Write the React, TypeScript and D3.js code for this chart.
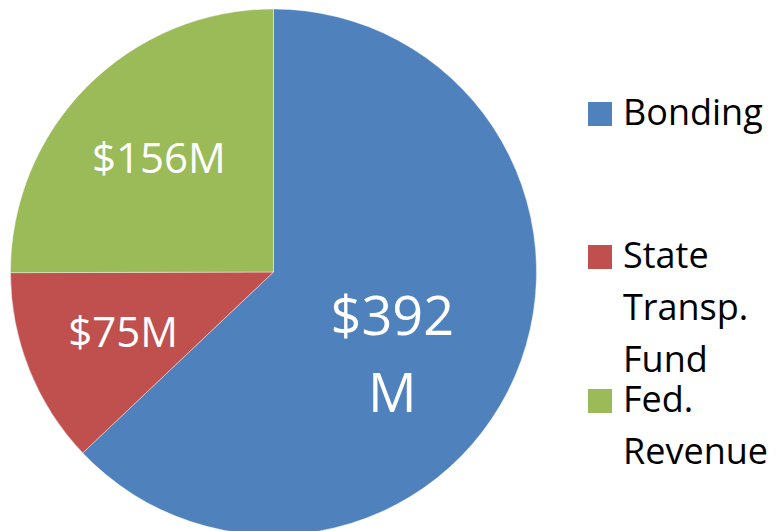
import React, { useEffect, useRef } from "react";
import * as d3 from "d3";

// funding sources, in the order they go round the pie (clockwise from 12 o'clock)
const sources = ["Bonding", "State Transp. Fund", "Fed. Revenue"];
const amounts = [392, 75, 156];
const sliceLabels = [["$392", "M"], ["$75M"], ["$156M"]];
const legendLines = [["Bonding"], ["State", "Transp.", "Fund"], ["Fed.", "Revenue"]];
const colors = ["#4F81BD", "#C0504D", "#9BBB59"];

const W = 777;
const H = 531;
const FONT = "'Open Sans', 'Noto Sans', sans-serif";

export default function App() {
  const ref = useRef<SVGSVGElement | null>(null);

  useEffect(() => {
    const svg = d3.select(ref.current);
    svg.selectAll("*").remove();

    const cx = 273.5,
      cy = 272,
      r = 263;

    const data = sources.map((s, i) => ({ name: s, value: amounts[i], i }));

    const pie = d3
      .pie<any>()
      .sort(null)
      .value((d) => d.value)
      .startAngle(0)
      .endAngle(2 * Math.PI);

    const arc = d3.arc<any>().innerRadius(0).outerRadius(r);
    const labelArc = d3.arc<any>().innerRadius(0).outerRadius(2 * 162);

    const g = svg.append("g").attr("transform", "translate(" + cx + "," + cy + ")");

    const arcs = pie(data);

    g.selectAll("path")
      .data(arcs)
      .enter()
      .append("path")
      .attr("d", arc)
      .attr("fill", (d) => colors[d.data.i])
      .attr("stroke", "#ffffff")
      .attr("stroke-opacity", 0.5)
      .attr("stroke-width", 0.8);

    // labels inside the slices
    arcs.forEach((d) => {
      const [x, y] = labelArc.centroid(d);
      const lines = sliceLabels[d.data.i];
      const big = lines.length > 1;
      const fs = big ? 54 : 42;
      const lh = big ? 77 : 0;
      // wrapped label sits a bit further round, like the original
      const nx = big ? x - 30 : x;
      const ny = big ? y + 18 : y;
      const t = g
        .append("text")
        .attr("text-anchor", "middle")
        .attr("fill", "#ffffff")
        .attr("font-family", FONT)
        .attr("font-size", fs);
      lines.forEach((line, k) => {
        t.append("tspan")
          .attr("x", nx)
          .attr("y", ny - ((lines.length - 1) * lh) / 2 + k * lh + fs * 0.36)
          .text(line);
      });
    });

    // legend
    const legendBase = [125, 268, 412];
    const legend = svg.append("g");
    legendLines.forEach((lines, i) => {
      legend
        .append("rect")
        .attr("x", 588)
        .attr("y", legendBase[i] - 23)
        .attr("width", 24)
        .attr("height", 24)
        .attr("fill", colors[i]);
      const t = legend
        .append("text")
        .attr("font-family", FONT)
        .attr("font-size", 36)
        .attr("fill", "#000000");
      lines.forEach((line, k) => {
        t.append("tspan")
          .attr("x", 623)
          .attr("y", legendBase[i] + k * 52)
          .text(line);
      });
    });
  }, []);

  return (
    <svg
      ref={ref}
      width={W}
      height={H}
      style={{ position: "absolute", left: 0, top: 0, background: "#ffffff" }}
    />
  );
}
